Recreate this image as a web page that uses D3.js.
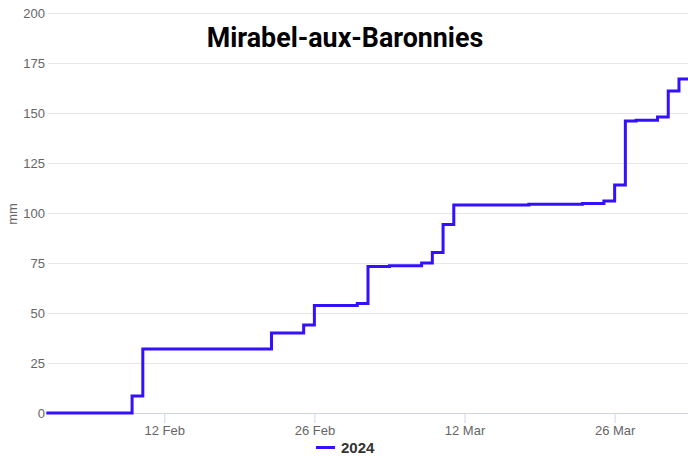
<!DOCTYPE html>
<html>
<head>
<meta charset="utf-8">
<script src="https://cdn.jsdelivr.net/npm/d3@7"></script>
<style>
  body { margin: 0; background: #fff; }
  svg { display: block; font-family: "Lucida Grande", "Lucida Sans Unicode", Arial, Helvetica, sans-serif; }
</style>
</head>
<body>
<svg></svg>
<script>
const width = 688;
const height = 466;

// dates are month-day, put on a common (non leap) year like the source chart does
const days = ['02-01', '02-09', '02-10', '02-22', '02-25', '02-26', '03-02', '03-03', '03-05',
  '03-08', '03-09', '03-10', '03-11', '03-18', '03-23', '03-25', '03-26', '03-27', '03-28',
  '03-30', '03-31', '04-01', '04-03'];
// cumulative rain, mm
const rain2024 = [0, 8.5, 32, 40, 44, 53.7, 54.8, 73.2, 73.6,
  75, 80.2, 94.3, 104, 104.4, 104.8, 106, 114, 146, 146.4,
  148, 161, 167, 167];
const xTicks = ['02-12', '02-26', '03-12', '03-26'];
const yTicks = [0, 25, 50, 75, 100, 125, 150, 175, 200];
const seriesName = '2024';
const title = 'Mirabel-aux-Baronnies';

const parse = md => d3.timeParse('%Y-%m-%d')('2023-' + md);

const data = days.map((d, i) => ({ date: parse(d), value: rain2024[i] }));

const x = d3.scaleTime()
  .domain([parse('02-01'), parse('04-02')])
  .range([46.3, 689.7]);

const y = d3.scaleLinear()
  .domain([0, 200])
  .range([413, 13]);

const svg = d3.select('svg')
  .attr('width', width)
  .attr('height', height);

// grid + y labels
const yAxis = svg.append('g')
  .attr('transform', 'translate(48,0)')
  .call(d3.axisLeft(y)
    .tickValues(yTicks)
    .tickSize(-(width - 48))
    .tickPadding(3));
yAxis.select('.domain').remove();
yAxis.selectAll('line').attr('stroke', '#e6e6e6');
yAxis.selectAll('text')
  .attr('fill', '#666')
  .style('font-size', '13px');

svg.append('text')
  .attr('transform', 'translate(17,214) rotate(-90)')
  .attr('text-anchor', 'middle')
  .attr('fill', '#666')
  .style('font-size', '13px')
  .text('mm');

// x axis
const xAxis = svg.append('g')
  .attr('transform', `translate(0,${y(0)})`)
  .call(d3.axisBottom(x)
    .tickValues(xTicks.map(parse))
    .tickFormat(d3.timeFormat('%-d %b'))
    .tickSize(10)
    .tickSizeOuter(0)
    .tickPadding(3));
xAxis.selectAll('line, path').attr('stroke', '#ccd6eb');
xAxis.selectAll('text')
  .attr('fill', '#666')
  .style('font-size', '13px');

const line = d3.line()
  .x(d => x(d.date))
  .y(d => y(d.value))
  .curve(d3.curveStepAfter);

svg.append('path')
  .datum(data)
  .attr('fill', 'none')
  .attr('stroke', '#3311ff')
  .attr('stroke-width', 3)
  .attr('d', line);

svg.append('text')
  .attr('x', 345)
  .attr('y', 47)
  .attr('text-anchor', 'middle')
  .style('font-family', 'Roboto, Arial, sans-serif')
  .style('font-weight', 'bold')
  .style('font-size', '26.8px')
  .attr('fill', '#000')
  .text(title);

// legend
const legend = svg.append('g')
  .attr('transform', 'translate(316,447.5)');
legend.append('line')
  .attr('x1', 0)
  .attr('x2', 19)
  .attr('stroke', '#3311ff')
  .attr('stroke-width', 3);
legend.append('text')
  .attr('x', 25)
  .attr('dy', '0.35em')
  .attr('fill', '#333')
  .style('font-weight', 'bold')
  .style('font-size', '15px')
  .text(seriesName);
</script>
</body>
</html>
